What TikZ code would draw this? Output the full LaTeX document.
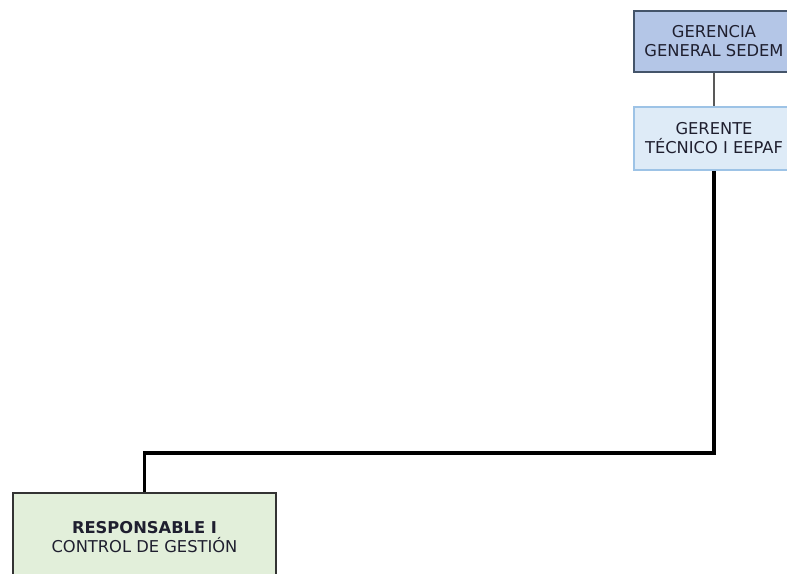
\documentclass[tikz,border=0pt]{standalone}
\usepackage{fontspec}
\setmainfont{DejaVu Sans}
\definecolor{gfill}{HTML}{B4C6E7}
\definecolor{gdraw}{HTML}{44546A}
\definecolor{tfill}{HTML}{DEEBF7}
\definecolor{tdraw}{HTML}{9DC3E6}
\definecolor{rfill}{HTML}{E2EFDA}
\definecolor{rdraw}{HTML}{333333}
\definecolor{txt}{HTML}{1F1F2F}
\tikzset{
  orgbox/.style={rectangle, align=center, inner sep=0pt, line width=1.5pt,
    font=\fontsize{16.3}{19}\selectfont, text=txt},
  thinlink/.style={draw=black!65, line width=2pt},
  thicklink/.style={draw=black, line width=3.2pt}
}
\begin{document}
\begin{tikzpicture}[x=1pt,y=-1pt]
\useasboundingbox[fill=white] (0,0) rectangle (787,573);
\node[orgbox, fill=gfill, draw=gdraw, minimum width=160pt, minimum height=61pt] (gg) at (714,41.5) {GERENCIA\\GENERAL SEDEM};
\node[orgbox, fill=tfill, draw=tdraw, minimum width=160pt, minimum height=63pt] (gt) at (714,138.5) {GERENTE\\TÉCNICO I EEPAF};
\node[orgbox, fill=rfill, draw=rdraw, minimum width=263pt, minimum height=88pt] (rc) at (144.5,537) {\textbf{RESPONSABLE I}\\CONTROL DE GESTIÓN};
\draw[thinlink] (gg.south) -- (gt.north);
\coordinate (c1) at (714,453);
\coordinate (c2) at (144.5,453);
\draw[thicklink, line join=miter] (gt.south) -- (c1) -- (c2) -- (rc.north);
\end{tikzpicture}
\end{document}
